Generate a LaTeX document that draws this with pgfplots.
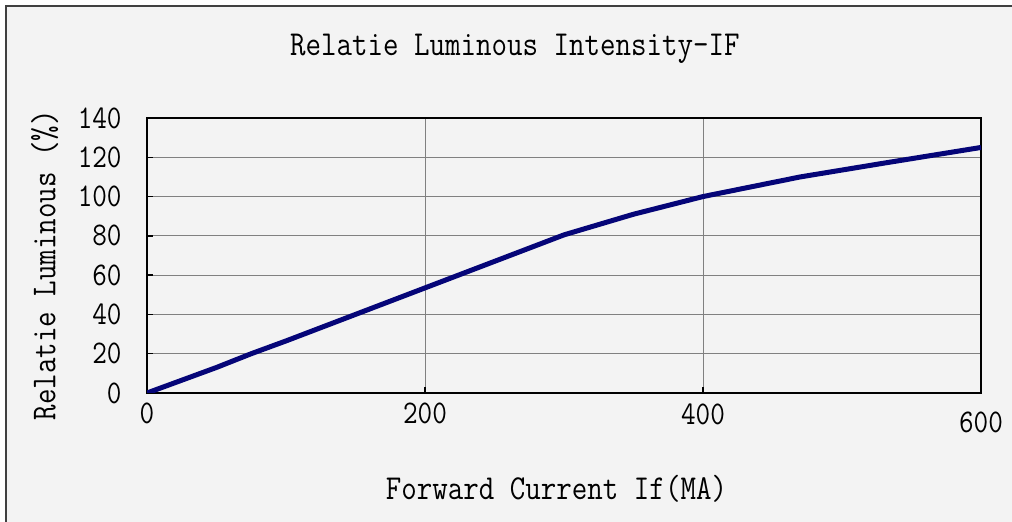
\documentclass[border=0pt]{standalone}
\usepackage{pgfplots}
\pgfplotsset{compat=1.18}
\usepackage{fontspec}
\setmonofont{Latin Modern Mono}[FakeStretch=0.86]
\newcommand\lm{\ttfamily}
\definecolor{bg}{RGB}{243,243,243}
\definecolor{frame}{RGB}{64,64,64}
\definecolor{curve}{RGB}{5,5,120}
\definecolor{gridc}{RGB}{128,128,128}
\begin{document}
\begin{tikzpicture}
\useasboundingbox (0,0) rectangle (506pt,261pt);
\fill[white] (0,0) rectangle (506pt,261pt);
\fill[bg] (2.5pt,0pt) rectangle (506pt,258.5pt);
\draw[frame, line width=1pt] (3pt,0pt) -- (3pt,258pt) -- (506pt,258pt);
\begin{axis}[
  at={(73.5pt,64.5pt)}, anchor=south west,
  scale only axis, width=417pt, height=137.5pt,
  xmin=0, xmax=600, ymin=0, ymax=140,
  xtick={0,200,400}, ytick={0,20,...,140},
  extra x ticks={600},
  extra x tick style={grid=none, major tick length=0pt,
    xticklabel style={yshift=-4.5pt}},
  grid=major,
  major grid style={gridc, line width=0.5pt},
  axis line style={black, line width=0.9pt},
  tick style={black, line width=0.7pt},
  tick align=inside, major tick length=3pt,
  xtick pos=bottom, ytick pos=left,
  /pgf/number format/assume math mode=true,
  every tick label/.append style={inner sep=0pt, font=\fontsize{16.5}{19}\selectfont\lm},
  yticklabel style={anchor=east, xshift=-12.5pt},
  xticklabel style={anchor=north, yshift=-5pt},
  scaled ticks=false,
  title={Relatie Luminous Intensity-IF},
  title style={at={(axis description cs:0.441,1.182)}, anchor=base, inner sep=0pt, font=\fontsize{17.5}{20}\selectfont\lm},
  xlabel={Forward Current If(MA)},
  xlabel style={at={(axis description cs:0.491,-0.389)}, anchor=base, inner sep=0pt, font=\fontsize{17.5}{20}\selectfont\lm},
  ylabel={Relatie Luminous (\%)},
  ylabel style={at={(axis description cs:-0.110,0.465)}, anchor=base, inner sep=0pt, font=\fontsize{17.5}{20}\selectfont\lm},
]
\addplot[curve, line width=2.5pt, line join=round] coordinates {
(0,0) (25,6.5) (50,13) (75,20) (100,26.5) (150,40) (200,53.5) (250,67)
(300,80.5) (350,91) (400,100) (470,110) (530,117) (600,125)
};
\end{axis}
\end{tikzpicture}
\end{document}
